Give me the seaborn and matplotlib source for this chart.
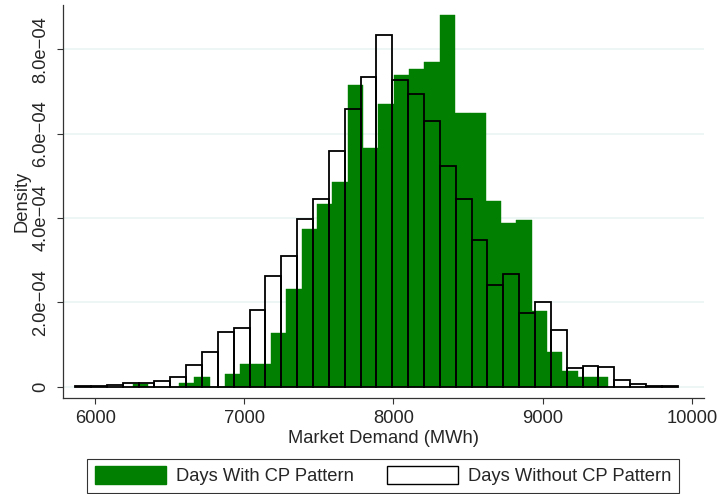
import numpy as np
import pandas as pd
import matplotlib
matplotlib.use("Agg")
import matplotlib.pyplot as plt
import seaborn as sns
from matplotlib.patches import Patch

# ---- data ----
# Days with CP pattern: 31 bins
cp_start = 6255.0
cp_width = 102.8
cp_density = [6.4e-6, 0.0, 0.0, 8.0e-6, 2.4e-5, 0.0, 3.0e-5, 5.3e-5, 5.3e-5,
              1.28e-4, 2.32e-4, 3.73e-4, 4.33e-4, 4.85e-4, 7.16e-4, 5.67e-4,
              6.71e-4, 7.38e-4, 7.54e-4, 7.69e-4, 8.81e-4, 6.49e-4, 6.49e-4,
              4.40e-4, 3.89e-4, 3.95e-4, 1.80e-4, 8.3e-5, 3.8e-5, 2.4e-5, 2.4e-5]

# Days without CP pattern: 38 bins
nocp_start = 5866.0
nocp_width = 106.3
nocp_density = [1.0e-6, 2.4e-6, 4.0e-6, 8.0e-6, 8.0e-6, 1.4e-5, 2.4e-5, 5.1e-5,
                8.3e-5, 1.30e-4, 1.39e-4, 1.83e-4, 2.63e-4, 3.11e-4, 3.98e-4,
                4.45e-4, 5.58e-4, 6.59e-4, 7.35e-4, 8.33e-4, 7.27e-4, 6.94e-4,
                6.30e-4, 5.24e-4, 4.46e-4, 3.49e-4, 2.41e-4, 2.67e-4, 1.75e-4,
                2.01e-4, 1.35e-4, 4.5e-5, 5.0e-5, 4.7e-5, 1.66e-5, 7.0e-6,
                2.4e-6, 1.7e-6]

x_ticks = [6000, 7000, 8000, 9000, 10000]
y_ticks = [0, 2e-4, 4e-4, 6e-4, 8e-4]
y_tick_labels = ["0", "2.0e\u221204", "4.0e\u221204", "6.0e\u221204", "8.0e\u221204"]
legend_labels = ["Days With CP Pattern", "Days Without CP Pattern"]
x_label = "Market Demand (MWh)"
y_label = "Density"

GREEN = "#007F00"
GRID = "#EAF2F3"
FS = 13.2

sns.set_style("white")
plt.rcParams["font.family"] = ["Liberation Sans", "DejaVu Sans"]

cp_edges = [cp_start + cp_width * i for i in range(len(cp_density) + 1)]
cp_df = pd.DataFrame({
    "x": [(cp_edges[i] + cp_edges[i + 1]) / 2 for i in range(len(cp_density))],
    "w": cp_density,
})
nocp_edges = [nocp_start + nocp_width * i for i in range(len(nocp_density) + 1)]
nocp_df = pd.DataFrame({
    "x": [(nocp_edges[i] + nocp_edges[i + 1]) / 2 for i in range(len(nocp_density))],
    "w": nocp_density,
})

fig = plt.figure(figsize=(7.17, 4.94), dpi=100)
ax = fig.add_axes([63 / 717, 1 - 398 / 494, (704 - 63) / 717, (398 - 5) / 494])

ax.set_axisbelow(True)
for yt in y_ticks:
    ax.axhline(yt, color=GRID, lw=1.1, zorder=0)

sns.histplot(data=cp_df, x="x", weights="w", bins=cp_edges, stat="count",
             color=GREEN, alpha=1, edgecolor=GREEN, linewidth=0.3, ax=ax, zorder=2)
sns.histplot(data=nocp_df, x="x", weights="w", bins=nocp_edges, stat="count",
             fill=False, color="black", linewidth=1.3, ax=ax, zorder=3)

ax.set_xlim(5785, 10082)
ax.set_ylim(-2.68e-5, 9.05e-4)
ax.set_xticks(x_ticks)
ax.set_xticklabels([str(t) for t in x_ticks], fontsize=FS)
ax.set_yticks(y_ticks)
ax.set_yticklabels(y_tick_labels, fontsize=FS, rotation=90, va="center")
ax.tick_params(axis="both", direction="out", length=4.3, width=0.8, color="#333333")
ax.tick_params(axis="y", pad=5.5, left=True)
ax.tick_params(axis="x", pad=4, bottom=True)
ax.set_xlabel(x_label, fontsize=FS, labelpad=2.5)
ax.set_ylabel(y_label, fontsize=FS, labelpad=1)

for s in ["top", "right"]:
    ax.spines[s].set_visible(False)
for s in ["left", "bottom"]:
    ax.spines[s].set_color("#333333")
    ax.spines[s].set_linewidth(0.9)

handles = [Patch(facecolor=GREEN, edgecolor=GREEN),
           Patch(facecolor="white", edgecolor="black", linewidth=1.0)]
leg = fig.legend(handles, legend_labels, loc="center", bbox_to_anchor=(0.5345, 0.037),
                 ncol=2, frameon=True, fancybox=False, edgecolor="black",
                 handlelength=3.87, handleheight=1.09, handletextpad=0.55,
                 columnspacing=1.83, borderpad=0.4, fontsize=FS, borderaxespad=0)
leg.get_frame().set_linewidth(0.8)

fig.savefig("out.png", dpi=100)
